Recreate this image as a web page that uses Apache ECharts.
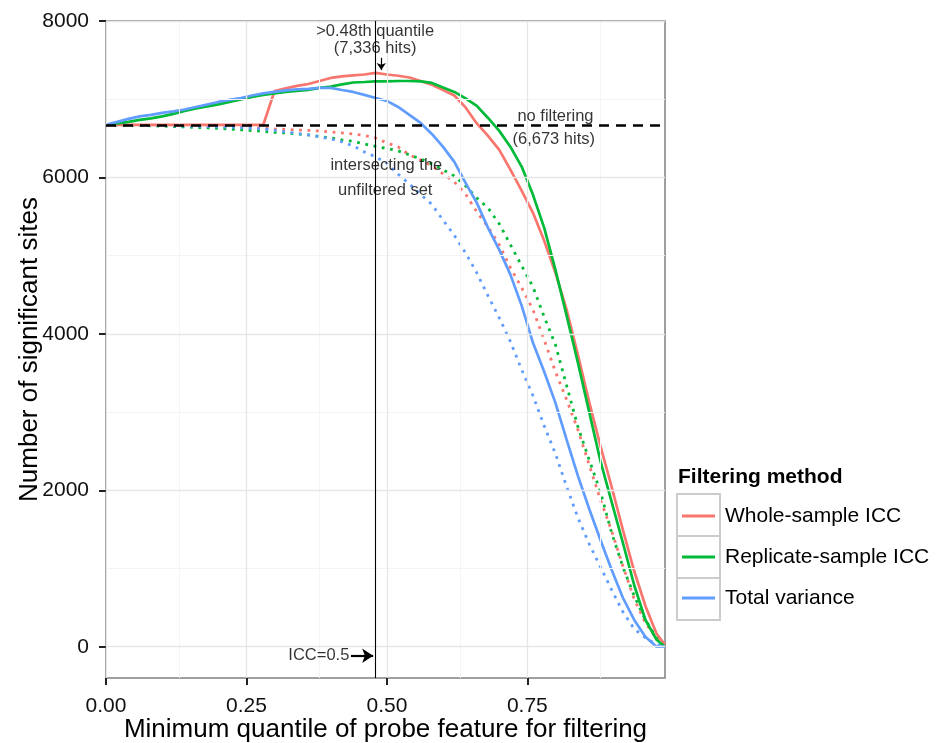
<!DOCTYPE html>
<html><head><meta charset="utf-8">
<script src="https://cdn.jsdelivr.net/npm/echarts@6/dist/echarts.min.js"></script>
<style>html,body{margin:0;padding:0;background:#fff}#c{width:937px;height:743px}</style>
</head><body><div id="c"></div>
<script>
// ---- data ----
const xs = [0,0.02,0.04,0.06,0.08,0.1,0.12,0.14,0.16,0.18,0.2,0.22,0.24,0.26,0.28,0.3,0.32,0.34,0.36,0.38,0.4,0.42,0.44,0.46,0.48,0.5,0.52,0.54,0.56,0.58,0.6,0.62,0.64,0.66,0.68,0.7,0.72,0.74,0.76,0.78,0.8,0.82,0.84,0.86,0.88,0.9,0.92,0.94,0.96,0.98,0.995];
const wholeSolid = [6673,6673,6673,6673,6673,6673,6673,6673,6673,6673,6673,6673,6673,6673,6673,7105,7138,7170,7195,7233,7272,7291,7304,7316,7336,7316,7300,7278,7233,7186,7118,7048,6895,6690,6531,6352,6096,5828,5547,5189,4780,4307,3732,3131,2569,2045,1495,971,524,166,25];
const replicateSolid = [6673,6690,6710,6736,6755,6780,6812,6850,6882,6908,6934,6966,6998,7029,7055,7074,7093,7106,7119,7144,7163,7189,7214,7220,7227,7227,7233,7233,7227,7208,7150,7093,7010,6914,6760,6595,6390,6135,5777,5355,4818,4230,3630,3003,2377,1853,1329,792,345,89,0];
const totalSolid = [6673,6710,6748,6780,6799,6825,6844,6869,6901,6933,6965,6991,7016,7048,7074,7093,7112,7125,7131,7144,7144,7118,7093,7055,7016,6978,6901,6799,6697,6556,6390,6199,5930,5674,5355,5074,4754,4358,3885,3515,3118,2645,2185,1764,1367,984,626,345,128,0,0];
const wholeDotted = [6673,6671,6669,6667,6665,6663,6661,6658,6655,6652,6649,6645,6641,6636,6630,6620,6614,6607,6601,6594,6582,6569,6556,6537,6505,6441,6390,6288,6224,6147,6045,5943,5789,5559,5368,5138,4844,4588,4307,3923,3515,3157,2773,2326,1879,1482,1035,613,307,102,0];
const replicateDotted = [6673,6670,6667,6664,6660,6656,6651,6646,6640,6633,6626,6618,6609,6599,6588,6575,6569,6556,6543,6524,6505,6480,6460,6428,6396,6371,6339,6288,6237,6173,6096,6019,5892,5738,5610,5406,5138,4869,4601,4217,3860,3336,2812,2390,1981,1457,1022,652,345,115,0];
const totalDotted = [6673,6672,6670,6668,6666,6664,6661,6658,6655,6651,6647,6642,6636,6628,6620,6601,6582,6562,6543,6518,6492,6454,6403,6326,6262,6180,6040,5917,5783,5655,5453,5259,5035,4780,4486,4205,3898,3540,3208,2824,2467,2045,1649,1316,1022,728,447,230,115,26,0];

const methods = ['Whole-sample ICC','Replicate-sample ICC','Total variance'];
const yTicks = [0,2000,4000,6000,8000];
const yMinor = [1000,3000,5000,7000];
const xTicks = [0,0.25,0.5,0.75];
const xMinor = [0.125,0.375,0.625,0.875];
const noFilterHits = 6673;
const quantileCut = 0.4775;

const annoText = ['>0.48th quantile','(7,336 hits)','no filtering','(6,673 hits)','intersecting the','unfiltered set','ICC=0.5'];
const annoX = [0.479,0.479,0.800,0.797,0.499,0.497,0.434];
const annoY = [7872,7655,6780,6480,6147,5828,-115];
const topArrow = [[0.490,7530],[0.490,7372]];
const iccArrow = [[0.436,-115],[0.4755,-115]];

// ---- chart ----
const FONT = '"Liberation Sans", Arial, Helvetica, sans-serif';
const COLORS = ['#F8766D','#00BA38','#619CFF'];
const pair = arr => xs.map((x,i)=>[x,arr[i]]);

const gridLines = [
  ...yMinor.map(v=>({yAxis:v, lineStyle:{color:'#F4F4F4', width:1, type:'solid'}})),
  ...xMinor.map(v=>({xAxis:v, lineStyle:{color:'#F4F4F4', width:1, type:'solid'}})),
  ...yTicks.map(v=>({yAxis:v, lineStyle:{color:'#E6E6E6', width:1.3, type:'solid'}})),
  ...xTicks.map(v=>({xAxis:v, lineStyle:{color:'#E6E6E6', width:1.3, type:'solid'}}))
];

const solids = [wholeSolid, replicateSolid, totalSolid];
const dotteds = [wholeDotted, replicateDotted, totalDotted];

const series = [
  {type:'line', name:'grid', data:[], silent:true, z:0,
   markLine:{silent:true, symbol:'none', animation:false, label:{show:false}, data:gridLines}}
];
dotteds.forEach((d,i)=>series.push({
  type:'line', name:methods[i]+' (intersect)', data:pair(d), showSymbol:false, z:2,
  color:COLORS[i], lineStyle:{width:2.8, type:[2.8,5.6], cap:'butt'}, silent:true
}));
solids.forEach((d,i)=>series.push({
  type:'line', name:methods[i], data:pair(d), showSymbol:false, z:3,
  color:COLORS[i], lineStyle:{width:2.7}, silent:true
}));
series.push({
  type:'line', name:'refs', data:[], silent:true, z:4,
  markLine:{silent:true, animation:false, label:{show:false}, symbol:'none', data:[
    {yAxis:noFilterHits, lineStyle:{color:'#000', width:2.6, type:[10,7]}},
    {xAxis:quantileCut, lineStyle:{color:'#000', width:1.1, type:'solid'}},
    [{coord:topArrow[0], symbol:'none'},{coord:topArrow[1], symbol:'arrow', symbolSize:[7,7], lineStyle:{color:'#000', width:1.2, type:'solid'}}],
    [{coord:iccArrow[0], symbol:'none'},{coord:iccArrow[1], symbol:'arrow', symbolSize:[11,11], lineStyle:{color:'#000', width:2.2, type:'solid'}}]
  ]}
});
series.push({
  type:'scatter', name:'annotations', silent:true, z:5, symbolSize:1,
  itemStyle:{color:'rgba(0,0,0,0)'},
  data: annoText.map((t,i)=>({
    value:[annoX[i], annoY[i]],
    label:{show:true, formatter:t, position: i===6 ? 'left' : 'inside', distance:0,
           fontSize:16.5, fontFamily:FONT, color:'#000'}
  }))
});

const chart = echarts.init(document.getElementById('c'), null, {renderer:'canvas'});
chart.setOption({
  animation:false,
  backgroundColor:'#fff',
  textStyle:{fontFamily:FONT},
  grid:{left:106, right:272, top:21, bottom:65, show:true, borderColor:'#808080', borderWidth:1.5,
        backgroundColor:'#fff', containLabel:false, outerBoundsMode:'none'},
  xAxis:{type:'value', min:0, max:0.995,
    axisLine:{show:false, onZero:false},
    axisTick:{show:true, customValues:xTicks, length:7, lineStyle:{color:'#222', width:2}},
    axisLabel:{customValues:xTicks, formatter:v=>v.toFixed(2), fontSize:21, margin:18, color:'#111', fontFamily:FONT},
    splitLine:{show:false},
    name:'Minimum quantile of probe feature for filtering', nameLocation:'middle', nameGap:39, nameMoveOverlap:false,
    nameTextStyle:{fontSize:26, color:'#000', fontFamily:FONT}
  },
  yAxis:{type:'value', min:-400, max:8000,
    axisLine:{show:false, onZero:false},
    axisTick:{show:true, customValues:yTicks, length:7, lineStyle:{color:'#222', width:2}},
    axisLabel:{customValues:yTicks, formatter:v=>String(v), fontSize:21, margin:17, color:'#111', fontFamily:FONT},
    splitLine:{show:false},
    name:'Number of significant sites', nameLocation:'middle', nameGap:63, nameMoveOverlap:false,
    nameTextStyle:{fontSize:26, color:'#000', fontFamily:FONT}
  },
  legend:{data:methods, orient:'vertical', left:677, top:499, itemWidth:33, itemHeight:3, itemGap:17,
    icon:'rect', selectedMode:false,
    textStyle:{fontSize:21, lineHeight:24, color:'#000', fontFamily:FONT, padding:[0,0,0,5]}},
  graphic:[
    {type:'text', left:678, top:467, style:{text:'Filtering method', font:'bold 21px '+FONT, fill:'#000'}},
    ...methods.map((m,i)=>({type:'rect', z:-1, shape:{x:677, y:494+42*i, width:43, height:42},
      style:{fill:'#fff', stroke:'#CCCCCC', lineWidth:2}}))
  ],
  series
});
</script></body></html>
